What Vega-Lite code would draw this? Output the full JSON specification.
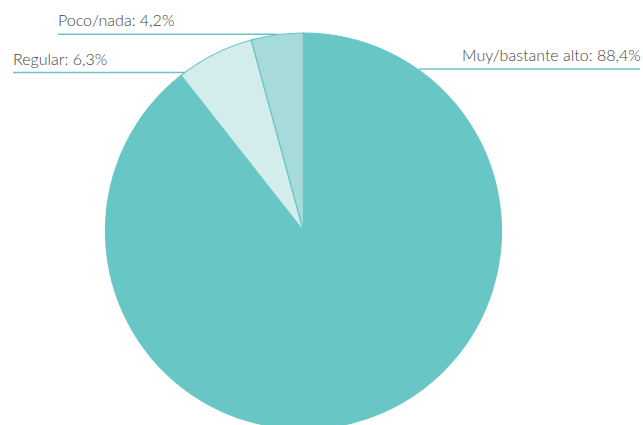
{
  "$schema": "https://vega.github.io/schema/vega-lite/v6.json",
  "autosize": "none",
  "width": 607,
  "height": 392,
  "padding": {"left": 0, "top": 35, "right": 36, "bottom": 0},
  "background": "white",
  "config": {"view": {"stroke": null}},
  "data": {
    "values": [
      {"categoria": "Muy/bastante alto", "porcentaje": 88.4, "etiqueta": "Muy/bastante alto: 88,4%"},
      {"categoria": "Regular", "porcentaje": 6.3, "etiqueta": "Regular: 6,3%"},
      {"categoria": "Poco/nada", "porcentaje": 4.2, "etiqueta": "Poco/nada: 4,2%"}
    ]
  },
  "layer": [
    {
      "mark": {"type": "arc", "outerRadius": 198, "stroke": "#68C7C5", "strokeWidth": 1.2},
      "encoding": {
        "theta": {"field": "porcentaje", "type": "quantitative", "stack": true},
        "order": {"field": "porcentaje", "type": "quantitative", "sort": "descending"},
        "color": {
          "field": "categoria",
          "type": "nominal",
          "scale": {"domain": ["Muy/bastante alto", "Regular", "Poco/nada"], "range": ["#68C7C5", "#D3ECEC", "#A7DBDA"]},
          "legend": null
        }
      }
    },
    {
      "mark": {"type": "tick", "orient": "horizontal", "thickness": 1.5, "color": "#68C7C5", "opacity": 1},
      "encoding": {
        "x": {"field": "porcentaje", "type": "quantitative", "axis": null,
              "scale": {"domain": [4.2, 6.3, 88.4], "range": [167.5, 99, 529.5], "zero": false, "nice": false}},
        "y": {"field": "porcentaje", "type": "quantitative", "axis": null,
              "scale": {"domain": [4.2, 6.3, 88.4], "range": [-0.7, 37.5, 34], "zero": false, "nice": false}},
        "size": {"field": "porcentaje", "type": "quantitative", "legend": null,
                 "scale": {"domain": [4.2, 6.3, 88.4], "range": [219, 172, 221], "zero": false, "nice": false}}
      }
    },
    {
      "mark": {"type": "text", "align": "left", "baseline": "alphabetic", "font": "Lato", "fontWeight": 300, "fontSize": 16, "color": "#444444"},
      "encoding": {
        "x": {"field": "porcentaje", "type": "quantitative", "axis": null,
              "scale": {"domain": [4.2, 6.3, 88.4], "range": [58, 13, 462], "zero": false, "nice": false}},
        "y": {"field": "porcentaje", "type": "quantitative", "axis": null,
              "scale": {"domain": [4.2, 6.3, 88.4], "range": [-9, 30, 26], "zero": false, "nice": false}},
        "text": {"field": "etiqueta", "type": "nominal"}
      }
    }
  ],
  "resolve": {"scale": {"x": "independent", "y": "independent", "size": "independent"}}
}
